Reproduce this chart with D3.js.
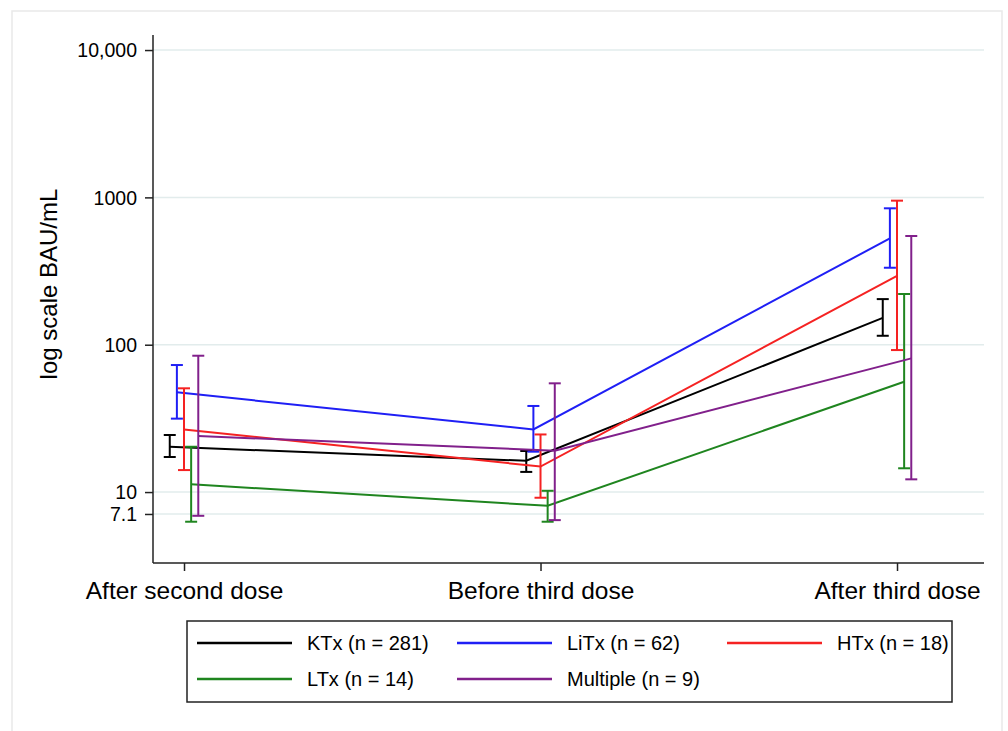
<!DOCTYPE html>
<html>
<head>
<meta charset="utf-8">
<script src="https://cdn.jsdelivr.net/npm/d3@7"></script>
<style>
  html, body { margin: 0; padding: 0; background: #fff; }
  svg { display: block; font-family: "Liberation Sans", Arial, Helvetica, sans-serif; }
</style>
</head>
<body>
<svg></svg>
<script>
// Time points on the x axis
let categories = ['After second dose', 'Before third dose', 'After third dose'];

// Groups, legend labels and colours
let groups = ['KTx', 'LiTx', 'HTx', 'LTx', 'Multiple'];
let groupLabels = ['KTx (n = 281)', 'LiTx (n = 62)', 'HTx (n = 18)', 'LTx (n = 14)', 'Multiple (n = 9)'];
let groupColors = ['#000000', '#1f1ff5', '#f52222', '#1f851f', '#81208b'];

// Geometric mean titres (BAU/mL) per time point
let meanKTx = [20.3, 16.3, 152];
let meanLiTx = [47.5, 26.6, 527];
let meanHTx = [26.6, 14.9, 293];
let meanLTx = [11.3, 8.07, 56.1];
let meanMultiple = [24.0, 19.1, 80.8];

// 95% CI lower bounds
let lowKTx = [17.3, 13.7, 115];
let lowLiTx = [31.5, 18.8, 333];
let lowHTx = [14.1, 9.15, 92];
let lowLTx = [6.29, 6.29, 14.5];
let lowMultiple = [6.9, 6.45, 12.2];

// 95% CI upper bounds
let highKTx = [24.4, 19.0, 204];
let highLiTx = [72.8, 38.4, 843];
let highHTx = [50.6, 24.6, 950];
let highLTx = [20.3, 10.2, 221];
let highMultiple = [84.2, 54.7, 547];

// Y axis ticks
let yTicks = [7.1, 10, 100, 1000, 10000];
let yTickLabels = ['7.1', '10', '100', '1000', '10,000'];

// Small dodge so the bars of each group don't overlap
let dodge = [-0.04, -0.02, 0, 0.02, 0.04];

let means = [meanKTx, meanLiTx, meanHTx, meanLTx, meanMultiple];
let lows = [lowKTx, lowLiTx, lowHTx, lowLTx, lowMultiple];
let highs = [highKTx, highLiTx, highHTx, highLTx, highMultiple];

// Build one record list per group
let series = groups.map((g, i) => ({
  name: g,
  label: groupLabels[i],
  color: groupColors[i],
  points: categories.map((c, j) => ({
    x: j + 1 + dodge[i],
    mean: means[i][j],
    low: lows[i][j],
    high: highs[i][j]
  }))
}));

// SVG width and height
let svgWidth = 1008;
let svgHeight = 731;

// Plot region
let plot = { left: 153, right: 984, top: 35, bottom: 563 };

let svg = d3.select('svg')
  .attr('width', svgWidth)
  .attr('height', svgHeight);

// Light outer frame
svg.append('rect')
  .attr('x', 12)
  .attr('y', 11)
  .attr('width', 990)
  .attr('height', 740)
  .attr('fill', 'none')
  .attr('stroke', '#e9e9e9')
  .attr('stroke-width', 1.5);

// Scales
let xScale = d3.scaleLinear()
  .domain([0.913, 3.244])
  .range([plot.left, plot.right]);

let yScale = d3.scaleLog()
  .domain([3.3, 12650])
  .range([plot.bottom, plot.top]);

// Grid lines
svg.append('g')
  .selectAll('line')
  .data(yTicks)
  .enter()
  .append('line')
  .attr('x1', plot.left)
  .attr('x2', plot.right)
  .attr('y1', d => yScale(d))
  .attr('y2', d => yScale(d))
  .attr('stroke', '#e2ecec')
  .attr('stroke-width', 1.5);

// Axes
let yAxis = d3.axisLeft(yScale)
  .tickValues(yTicks)
  .tickFormat((d, i) => yTickLabels[i])
  .tickSize(8)
  .tickPadding(8);

let xAxis = d3.axisBottom(xScale)
  .tickValues([1, 2, 3])
  .tickFormat((d, i) => categories[i])
  .tickSize(8)
  .tickPadding(6);

let gy = svg.append('g')
  .attr('transform', 'translate(' + plot.left + ', 0)')
  .call(yAxis);

let gx = svg.append('g')
  .attr('transform', 'translate(0, ' + plot.bottom + ')')
  .call(xAxis);

gy.select('.domain').attr('d', 'M0,' + plot.top + 'V' + plot.bottom);
gx.select('.domain').attr('d', 'M' + plot.left + ',0H' + plot.right);

for (let g of [gx, gy]) {
  g.selectAll('.domain, .tick line')
    .attr('stroke', '#222')
    .attr('stroke-width', 1.5);
  g.selectAll('text')
    .attr('fill', '#000')
    .attr('font-family', '"Liberation Sans", Arial, sans-serif');
}
gy.selectAll('text').attr('font-size', '19.5px').attr('dy', '0.35em');
gx.selectAll('text').attr('font-size', '24.5px').attr('dy', '0.88em');

// Y label
svg.append('text')
  .attr('transform', 'translate(57, 284) rotate(-90)')
  .attr('text-anchor', 'middle')
  .attr('font-size', '24px')
  .attr('fill', '#000')
  .text('log scale BAU/mL');

// Lines connecting group means
let line = d3.line()
  .x(d => xScale(d.x))
  .y(d => yScale(d.mean));

let capHalf = 6;

for (let s of series) {
  let gs = svg.append('g').attr('class', 'series');

  gs.append('path')
    .datum(s.points)
    .attr('d', line)
    .attr('fill', 'none')
    .attr('stroke', s.color)
    .attr('stroke-width', 2);

  // Error bars: vertical stem plus caps
  let bars = gs.selectAll('.bar')
    .data(s.points)
    .enter()
    .append('g')
    .attr('class', 'bar')
    .attr('stroke', s.color)
    .attr('stroke-width', 2);

  bars.append('line')
    .attr('x1', d => xScale(d.x))
    .attr('x2', d => xScale(d.x))
    .attr('y1', d => yScale(d.low))
    .attr('y2', d => yScale(d.high));

  bars.append('line')
    .attr('x1', d => xScale(d.x) - capHalf)
    .attr('x2', d => xScale(d.x) + capHalf)
    .attr('y1', d => yScale(d.low))
    .attr('y2', d => yScale(d.low));

  bars.append('line')
    .attr('x1', d => xScale(d.x) - capHalf)
    .attr('x2', d => xScale(d.x) + capHalf)
    .attr('y1', d => yScale(d.high))
    .attr('y2', d => yScale(d.high));
}

// Legend
let legend = svg.append('g')
  .attr('transform', 'translate(187, 621)');

legend.append('rect')
  .attr('width', 765)
  .attr('height', 81)
  .attr('fill', '#fff')
  .attr('stroke', '#222')
  .attr('stroke-width', 1.5);

let colX = [10, 270, 540];
let rowY = [22, 58];

let cells = legend.selectAll('.cell')
  .data(series)
  .enter()
  .append('g')
  .attr('class', 'cell')
  .attr('transform', (d, i) => 'translate(' + colX[i % 3] + ', ' + rowY[Math.floor(i / 3)] + ')');

cells.append('line')
  .attr('x1', 0)
  .attr('x2', 95)
  .attr('stroke', d => d.color)
  .attr('stroke-width', 2.5);

cells.append('text')
  .attr('x', 110)
  .attr('dy', '0.36em')
  .attr('font-size', '20px')
  .attr('fill', '#000')
  .text(d => d.label);
</script>
</body>
</html>
